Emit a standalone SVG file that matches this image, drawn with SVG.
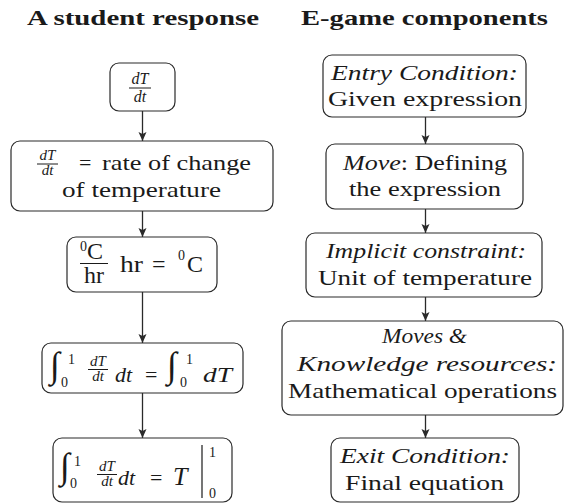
<svg xmlns="http://www.w3.org/2000/svg" width="566" height="504" viewBox="0 0 566 504" font-family="'Liberation Serif', 'DejaVu Serif', serif">
<style>
.box{fill:#fff;stroke:#2a2a2a;stroke-width:1.2}
text{font-family:'Liberation Serif','DejaVu Serif',serif;fill:#1a1a1a}
.t{font-size:22px}
.i{font-style:italic}
.h{font-size:21px;font-weight:bold}
.s{font-size:14px}
.f{font-size:15px}
.bar{stroke:#1a1a1a;stroke-width:1}
.c{stroke:#2a2a2a;stroke-width:1.3;fill:none;marker-end:url(#ah)}
</style>
<defs>
<marker id="ah" markerUnits="userSpaceOnUse" markerWidth="10" markerHeight="10" refX="9" refY="4" orient="auto">
<path d="M0,0 L9,4 L0,8 L2,4 z" fill="#2a2a2a"/>
</marker>
</defs>
<g id="titles">
<text class="h" x="27" y="25" textLength="232" lengthAdjust="spacingAndGlyphs">A student response</text>
<text class="h" x="301" y="25" textLength="247" lengthAdjust="spacingAndGlyphs">E-game components</text>
</g>
<g id="connectors">
<line class="c" x1="142.5" y1="111" x2="142.5" y2="141"/>
<line class="c" x1="142.5" y1="211" x2="142.5" y2="237"/>
<line class="c" x1="142.5" y1="292" x2="142.5" y2="343"/>
<line class="c" x1="142.5" y1="393" x2="142.5" y2="438"/>
<line class="c" x1="425.5" y1="117" x2="425.5" y2="144"/>
<line class="c" x1="425.5" y1="209" x2="425.5" y2="233"/>
<line class="c" x1="425.5" y1="297" x2="425.5" y2="321"/>
<line class="c" x1="425.5" y1="415" x2="425.5" y2="438"/>
</g>
<g id="L1">
<rect class="box" x="110" y="63" width="65" height="48" rx="9"/>
<text class="t i" x="140" y="84" text-anchor="middle" style="font-size:16px">dT</text>
<line class="bar" x1="129" y1="88" x2="151" y2="88"/>
<text class="t i" x="140" y="102" text-anchor="middle" style="font-size:16px">dt</text>
</g>
<g id="L2">
<rect class="box" x="11" y="141" width="262" height="70" rx="9"/>
<text class="t i f" x="47.5" y="160" text-anchor="middle">dT</text>
<line class="bar" x1="37" y1="164" x2="58" y2="164"/>
<text class="t i f" x="47.5" y="175" text-anchor="middle">dt</text>
<text class="t" x="79" y="170">=</text>
<text class="t" x="102" y="170" textLength="149" lengthAdjust="spacingAndGlyphs">rate of change</text>
<text class="t" x="62" y="197" textLength="159" lengthAdjust="spacingAndGlyphs">of temperature</text>
</g>
<g id="L3">
<rect class="box" x="67" y="237" width="150" height="55" rx="9"/>
<text class="t s" x="80" y="251">0</text>
<text class="t" x="87" y="259" style="font-size:24px">C</text>
<line class="bar" x1="80" y1="263.5" x2="108" y2="263.5"/>
<text class="t" x="94" y="283" text-anchor="middle" style="font-size:24px">hr</text>
<text class="t" x="120" y="272" style="font-size:24px" textLength="23" lengthAdjust="spacingAndGlyphs">hr</text>
<text class="t" x="152" y="272" style="font-size:24px">=</text>
<text class="t s" x="178" y="260">0</text>
<text class="t" x="187" y="272" style="font-size:24px">C</text>
</g>
<g id="L4">
<rect class="box" x="42" y="343" width="201" height="50" rx="9"/>
<text class="t" x="50" y="377" style="font-size:36px">∫</text>
<text class="t s" x="68" y="364">1</text>
<text class="t s" x="61" y="387">0</text>
<text class="t i f" x="98" y="366" text-anchor="middle">dT</text>
<line class="bar" x1="88" y1="369.5" x2="108" y2="369.5"/>
<text class="t i f" x="98" y="381" text-anchor="middle">dt</text>
<text class="t i" x="115" y="382">dt</text>
<text class="t" x="145" y="382">=</text>
<text class="t" x="167" y="377" style="font-size:36px">∫</text>
<text class="t s" x="186" y="364">1</text>
<text class="t s" x="180" y="387">0</text>
<text class="t i" x="203" y="382" textLength="29" lengthAdjust="spacingAndGlyphs">dT</text>
</g>
<g id="L5">
<rect class="box" x="53" y="438" width="179" height="64" rx="9"/>
<text class="t" x="60" y="478" style="font-size:36px">∫</text>
<text class="t s" x="74" y="466">1</text>
<text class="t s" x="70" y="488">0</text>
<text class="t i f" x="107" y="471" text-anchor="middle">dT</text>
<line class="bar" x1="97" y1="474.5" x2="117" y2="474.5"/>
<text class="t i f" x="107" y="486" text-anchor="middle">dt</text>
<text class="t i" x="118" y="485">dt</text>
<text class="t" x="150" y="485">=</text>
<text class="t i" x="173" y="485" style="font-size:26px">T</text>
<line class="bar" x1="202" y1="445" x2="202" y2="498" style="stroke-width:1.2"/>
<text class="t s" x="209" y="457">1</text>
<text class="t s" x="209" y="498">0</text>
</g>
<g id="R1">
<rect class="box" x="323" y="55" width="203" height="62" rx="9"/>
<text class="t i" x="331" y="80" textLength="187" lengthAdjust="spacingAndGlyphs">Entry Condition:</text>
<text class="t" x="328" y="106" textLength="194" lengthAdjust="spacingAndGlyphs">Given expression</text>
</g>
<g id="R2">
<rect class="box" x="326" y="144" width="197" height="65" rx="9"/>
<text class="t" x="343" y="170" textLength="164" lengthAdjust="spacingAndGlyphs"><tspan class="i">Move</tspan>: Defining</text>
<text class="t" x="349" y="196" textLength="152" lengthAdjust="spacingAndGlyphs">the expression</text>
</g>
<g id="R3">
<rect class="box" x="306" y="233" width="236" height="64" rx="9"/>
<text class="t i" x="326" y="258" textLength="200" lengthAdjust="spacingAndGlyphs">Implicit constraint:</text>
<text class="t" x="318" y="285" textLength="214" lengthAdjust="spacingAndGlyphs">Unit of temperature</text>
</g>
<g id="R4">
<rect class="box" x="282" y="321" width="281" height="94" rx="9"/>
<text class="t i" x="382" y="343" textLength="85" lengthAdjust="spacingAndGlyphs">Moves &amp;</text>
<text class="t i" x="297" y="371" textLength="260" lengthAdjust="spacingAndGlyphs">Knowledge resources:</text>
<text class="t" x="288" y="398" textLength="269" lengthAdjust="spacingAndGlyphs">Mathematical operations</text>
</g>
<g id="R5">
<rect class="box" x="331" y="438" width="188" height="64" rx="9"/>
<text class="t i" x="340" y="463" textLength="170" lengthAdjust="spacingAndGlyphs">Exit Condition:</text>
<text class="t" x="345" y="490" textLength="159" lengthAdjust="spacingAndGlyphs">Final equation</text>
</g>
</svg>
